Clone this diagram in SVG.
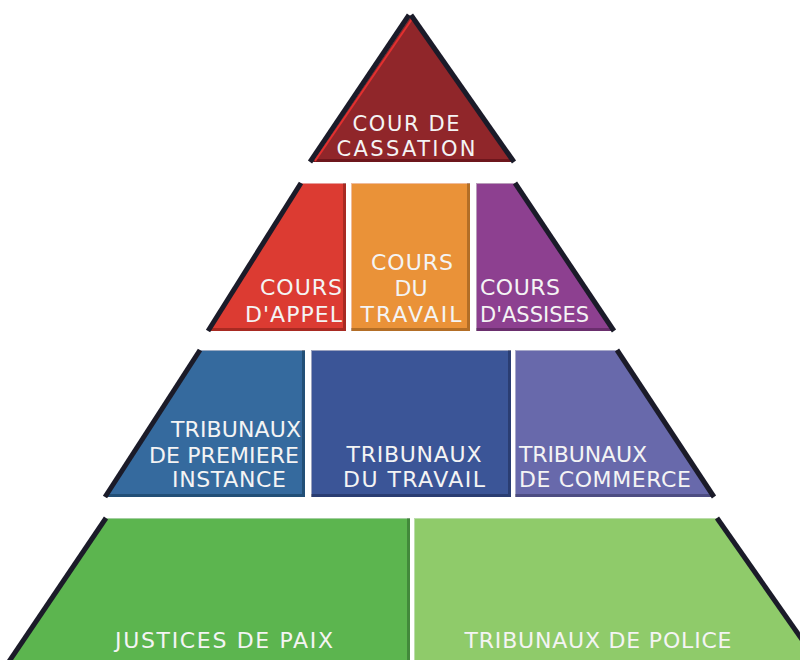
<svg xmlns="http://www.w3.org/2000/svg" width="800" height="660" viewBox="0 0 800 660">
<style>
.t{font-family:"DejaVu Sans","Liberation Sans",sans-serif;font-size:22px;fill:#f4f4f4}
.s{font-size:21px}
.m{text-anchor:middle}
.e{text-anchor:end}
.edge{stroke:#1b1b29;stroke-width:5;stroke-linecap:butt;fill:none}
.blk{filter:url(#bev)}
</style>
<defs>
<filter id="bev" x="-5%" y="-5%" width="110%" height="110%">
<feOffset in="SourceAlpha" dx="-3" dy="-3" result="o"/>
<feComposite in="SourceAlpha" in2="o" operator="out" result="edge"/>
<feGaussianBlur in="edge" stdDeviation="0.7" result="eb"/>
<feFlood flood-color="#000" flood-opacity="0.45"/>
<feComposite in2="eb" operator="in" result="sh0"/>
<feComposite in="sh0" in2="SourceAlpha" operator="in" result="shade"/>
<feOffset in="SourceAlpha" dx="1" dy="1" result="o2"/>
<feComposite in="SourceAlpha" in2="o2" operator="out" result="hl0"/>
<feFlood flood-color="#fff" flood-opacity="0.3"/>
<feComposite in2="hl0" operator="in" result="hl"/>
<feMerge><feMergeNode in="SourceGraphic"/><feMergeNode in="hl"/><feMergeNode in="shade"/></feMerge>
</filter>
</defs>
<rect width="800" height="660" fill="#fff"/>

<g id="cour-de-cassation">
<polygon class="blk" points="410,15 311,162 513,162" fill="#902729"/>
<line class="edge" x1="409" y1="15" x2="310" y2="162"/>
<line x1="412" y1="19" x2="315" y2="161" stroke="#e2302f" stroke-width="2"/>
<line class="edge" x1="411" y1="15" x2="514" y2="162"/>
<text class="t s m" x="406" y="131" textLength="107" lengthAdjust="spacing">COUR DE</text>
<text class="t s m" x="406" y="156" textLength="139" lengthAdjust="spacing">CASSATION</text>
</g>

<g id="cours-appel">
<polygon class="blk" points="301,183 346,183 346,331 208,331" fill="#dc3a33"/>
<line class="edge" x1="301" y1="183" x2="208" y2="331"/>
<text class="t e" x="342" y="295" textLength="82" lengthAdjust="spacing">COURS</text>
<text class="t e" x="342" y="322" textLength="97" lengthAdjust="spacing">D'APPEL</text>
</g>

<g id="cours-travail">
<rect class="blk" x="351" y="183" width="119" height="148" fill="#ea9237"/>
<text class="t m" x="412" y="270" textLength="82" lengthAdjust="spacing">COURS</text>
<text class="t m" x="411" y="296">DU</text>
<text class="t m" x="411" y="322" textLength="101" lengthAdjust="spacing">TRAVAIL</text>
</g>

<g id="cours-assises">
<polygon class="blk" points="476,183 515,183 614,331 476,331" fill="#8d4190"/>
<line class="edge" x1="515" y1="183" x2="614" y2="331"/>
<text class="t" x="480" y="295" textLength="80" lengthAdjust="spacing">COURS</text>
<text class="t s" x="480" y="322">D'ASSISES</text>
</g>

<g id="tribunaux-premiere-instance">
<polygon class="blk" points="200,350 305,350 305,497 105,497" fill="#366b9e"/>
<line class="edge" x1="200" y1="350" x2="105" y2="497"/>
<text class="t m" x="236" y="437" textLength="130" lengthAdjust="spacing">TRIBUNAUX</text>
<text class="t m" x="224" y="463" textLength="150" lengthAdjust="spacing">DE PREMIERE</text>
<text class="t m" x="229" y="487" textLength="114" lengthAdjust="spacing">INSTANCE</text>
</g>

<g id="tribunaux-travail">
<rect class="blk" x="311" y="350" width="200" height="147" fill="#3a5597"/>
<text class="t m" x="414" y="462" textLength="135" lengthAdjust="spacing">TRIBUNAUX</text>
<text class="t m" x="414" y="487" textLength="142" lengthAdjust="spacing">DU TRAVAIL</text>
</g>

<g id="tribunaux-commerce">
<polygon class="blk" points="515,350 617,350 714,497 515,497" fill="#6869ab"/>
<line class="edge" x1="617" y1="350" x2="714" y2="497"/>
<text class="t" x="519" y="462" textLength="128" lengthAdjust="spacing">TRIBUNAUX</text>
<text class="t" x="519" y="487" textLength="172" lengthAdjust="spacing">DE COMMERCE</text>
</g>

<g id="justices-de-paix">
<polygon class="blk" points="106,518 410,518 410,663 8,663" fill="#5cb550"/>
<line class="edge" x1="106" y1="518" x2="8" y2="663"/>
<text class="t m" x="224" y="648" textLength="218" lengthAdjust="spacing">JUSTICES DE PAIX</text>
</g>

<g id="tribunaux-de-police">
<polygon class="blk" points="414,518 717,518 803,641 803,663 414,663" fill="#8fcb6b"/>
<line class="edge" x1="717" y1="518" x2="803" y2="641"/>
<text class="t m" x="598" y="648" textLength="267" lengthAdjust="spacing">TRIBUNAUX DE POLICE</text>
</g>
</svg>
